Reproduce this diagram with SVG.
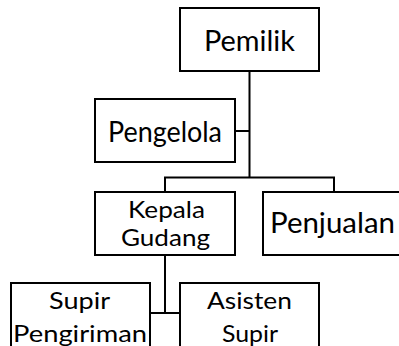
<svg xmlns="http://www.w3.org/2000/svg" width="399" height="346" viewBox="0 0 399 346">
<style>
.box{fill:#fff;stroke:#000;stroke-width:2}
.lbl{font-family:Lato,"Noto Sans","DejaVu Sans",sans-serif;fill:#000;text-anchor:middle}
.big{font-size:28px}
.sm{font-size:24px}
.conn{fill:none;stroke:#000;stroke-width:2}
</style>
<rect width="399" height="346" fill="#fff"/>
<g id="connectors">
<path class="conn" d="M249.5,71 V177.5 M235,131 H249.5 M165,192 V177.5 H334 V192 M165,255 V313 M150,313 H180"/>
</g>
<g id="pemilik">
<rect class="box" x="180" y="8" width="139" height="63"/>
<text class="lbl big" x="249.5" y="51" textLength="91" lengthAdjust="spacingAndGlyphs">Pemilik</text>
</g>
<g id="pengelola">
<rect class="box" x="95" y="99" width="140" height="63"/>
<text class="lbl big" x="165" y="142" textLength="114" lengthAdjust="spacingAndGlyphs">Pengelola</text>
</g>
<g id="kepala-gudang">
<rect class="box" x="95" y="192" width="140" height="63"/>
<text class="lbl sm" x="166.5" y="218" textLength="77" lengthAdjust="spacingAndGlyphs">Kepala</text>
<text class="lbl sm" x="165.5" y="246" textLength="89" lengthAdjust="spacingAndGlyphs">Gudang</text>
</g>
<g id="penjualan">
<rect class="box" x="263" y="192" width="140" height="63"/>
<text class="lbl big" x="332.5" y="233" textLength="125" lengthAdjust="spacingAndGlyphs">Penjualan</text>
</g>
<g id="supir-pengiriman">
<rect class="box" x="11" y="283" width="139" height="70"/>
<text class="lbl sm" x="79.5" y="309" textLength="61" lengthAdjust="spacingAndGlyphs">Supir</text>
<text class="lbl sm" x="80" y="342" textLength="134" lengthAdjust="spacingAndGlyphs">Pengiriman</text>
</g>
<g id="asisten-supir">
<rect class="box" x="180" y="283" width="139" height="70"/>
<text class="lbl sm" x="249.5" y="309" textLength="85" lengthAdjust="spacingAndGlyphs">Asisten</text>
<text class="lbl sm" x="250" y="342" textLength="56" lengthAdjust="spacingAndGlyphs">Supir</text>
</g>
</svg>
